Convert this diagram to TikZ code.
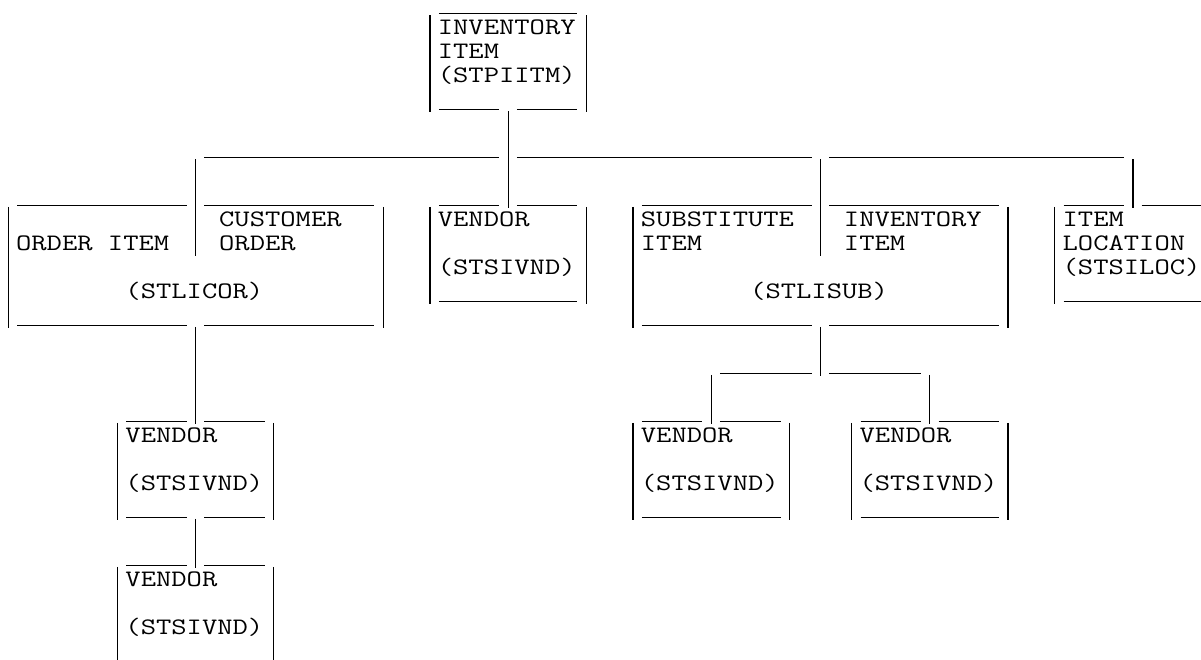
\documentclass[tikz,border=0pt]{standalone}
\usepackage{fontspec}
\newfontfamily\asciimono[FakeStretch=1.26]{Latin Modern Mono}
\tikzset{
  ln/.style={line width=0.6pt, black},
  lbl/.style={anchor=base west, inner sep=0pt, outer sep=0pt,
    font=\asciimono\fontsize{11.8}{12}\selectfont, text=black},
}
% underscores over columns #1..#2 in row #3
\newcommand{\hrun}[3]{\draw[ln] ({#1+0.06},{#3+0.1}) -- ({#2+0.94},{#3+0.1});}
% pipe in column #1 over rows #2..#3
\newcommand{\vrun}[3]{\draw[ln] ({#1+0.5},{#2-0.833}) -- ({#1+0.5},{#3+0.2});}
% box: left pipe col, right pipe col, top row, bottom row, top gap col, bottom gap col (0 = none)
\newcommand{\asciibox}[6]{%
  \vrun{#1}{#3+1}{#4}\vrun{#2}{#3+1}{#4}%
  \ifnum#5=0 \hrun{#1+1}{#2-1}{#3}\else\hrun{#1+1}{#5-1}{#3}\hrun{#5+1}{#2-1}{#3}\fi
  \ifnum#6=0 \hrun{#1+1}{#2-1}{#4}\else\hrun{#1+1}{#6-1}{#4}\hrun{#6+1}{#2-1}{#4}\fi}
\begin{document}
\begin{tikzpicture}[x=7.81pt,y=-12pt]
\useasboundingbox (-0.032,-0.458) rectangle (76.86,27.042);
\fill[white] (-0.032,-0.458) rectangle (76.86,27.042);

% ---------- boxes ----------
\asciibox{27}{37}{0}{4}{0}{32}      % INVENTORY ITEM (STPIITM)
\asciibox{0}{24}{8}{13}{12}{12}     % STLICOR
\asciibox{27}{37}{8}{12}{32}{0}     % VENDOR (middle)
\asciibox{40}{64}{8}{13}{52}{52}    % STLISUB
\asciibox{7}{17}{17}{21}{12}{12}    % VENDOR lower left A
\asciibox{40}{50}{17}{21}{45}{0}    % VENDOR lower right C
\asciibox{54}{64}{17}{21}{59}{0}    % VENDOR lower right D
% VENDOR lower left B (cut by the lower edge)
\hrun{8}{11}{23}\hrun{13}{16}{23}
\draw[ln] (7.5,23.167) -- (7.5,27.042);
\draw[ln] (17.5,23.167) -- (17.5,27.042);
% ITEM LOCATION (cut by the right edge)
\hrun{68}{71}{8}
\draw[ln] (73.06,8.1) -- (76.86,8.1);
\vrun{67}{9}{12}
\draw[ln] (68.06,12.1) -- (76.86,12.1);

% ---------- texts ----------
\node[lbl] (inv1) at (28,1) {INVENTORY};
\node[lbl] (inv2) at (28,2) {ITEM};
\node[lbl] (inv3) at (28,3) {(STPIITM)};

\node[lbl] (oi1) at (1,10) {ORDER ITEM};
\node[lbl] (co1) at (14,9) {CUSTOMER};
\node[lbl] (co2) at (14,10) {ORDER};
\node[lbl] (oi3) at (8,12) {(STLICOR)};

\node[lbl] (vm1) at (28,9) {VENDOR};
\node[lbl] (vm2) at (28,11) {(STSIVND)};

\node[lbl] (su1) at (41,9) {SUBSTITUTE};
\node[lbl] (su2) at (41,10) {ITEM};
\node[lbl] (si1) at (54,9) {INVENTORY};
\node[lbl] (si2) at (54,10) {ITEM};
\node[lbl] (su3) at (48,12) {(STLISUB)};

\node[lbl] (lo1) at (68,9) {ITEM};
\node[lbl] (lo2) at (68,10) {LOCATION};
\node[lbl] (lo3) at (68,11) {(STSILOC)};

\node[lbl] (va1) at (8,18) {VENDOR};
\node[lbl] (va2) at (8,20) {(STSIVND)};
\node[lbl] (vb1) at (8,24) {VENDOR};
\node[lbl] (vb2) at (8,26) {(STSIVND)};
\node[lbl] (vc1) at (41,18) {VENDOR};
\node[lbl] (vc2) at (41,20) {(STSIVND)};
\node[lbl] (vd1) at (55,18) {VENDOR};
\node[lbl] (vd2) at (55,20) {(STSIVND)};

% ---------- connector points ----------
\coordinate (T-s)   at (32.5,4.167);
\coordinate (VM-n)  at (32.5,8.2);
\coordinate (barA)  at (13.06,6.1);
\coordinate (barB)  at (31.94,6.1);
\coordinate (barC)  at (33.06,6.1);
\coordinate (barD)  at (51.94,6.1);
\coordinate (barE)  at (53.06,6.1);
\coordinate (barF)  at (71.94,6.1);
\coordinate (OI-d)  at (12.5,6.167);
\coordinate (OI-n)  at (12.5,10.2);
\coordinate (SU-d)  at (52.5,6.167);
\coordinate (SU-n)  at (52.5,10.2);
\coordinate (LO-d)  at (72.5,6.167);
\coordinate (LO-n)  at (72.5,8.2);
\coordinate (OI-s)  at (12.5,13.167);
\coordinate (VA-n)  at (12.5,17.2);
\coordinate (VA-s)  at (12.5,21.167);
\coordinate (VB-n)  at (12.5,23.2);
\coordinate (SU-s)  at (52.5,13.167);
\coordinate (SU-j)  at (52.5,15.2);
\coordinate (bar2A) at (46.06,15.1);
\coordinate (bar2B) at (51.94,15.1);
\coordinate (bar2C) at (53.06,15.1);
\coordinate (bar2D) at (58.94,15.1);
\coordinate (VC-d)  at (45.5,15.167);
\coordinate (VC-n)  at (45.5,17.2);
\coordinate (VD-d)  at (59.5,15.167);
\coordinate (VD-n)  at (59.5,17.2);

% ---------- connectors ----------
\draw[ln] (T-s) -- (VM-n);
\draw[ln] (barA) -- (barB);
\draw[ln] (barC) -- (barD);
\draw[ln] (barE) -- (barF);
\draw[ln] (OI-d) -- (OI-n);
\draw[ln] (SU-d) -- (SU-n);
\draw[ln] (LO-d) -- (LO-n);
\draw[ln] (OI-s) -- (VA-n);
\draw[ln] (VA-s) -- (VB-n);
\draw[ln] (SU-s) -- (SU-j);
\draw[ln] (bar2A) -- (bar2B);
\draw[ln] (bar2C) -- (bar2D);
\draw[ln] (VC-d) -- (VC-n);
\draw[ln] (VD-d) -- (VD-n);
\end{tikzpicture}
\end{document}
